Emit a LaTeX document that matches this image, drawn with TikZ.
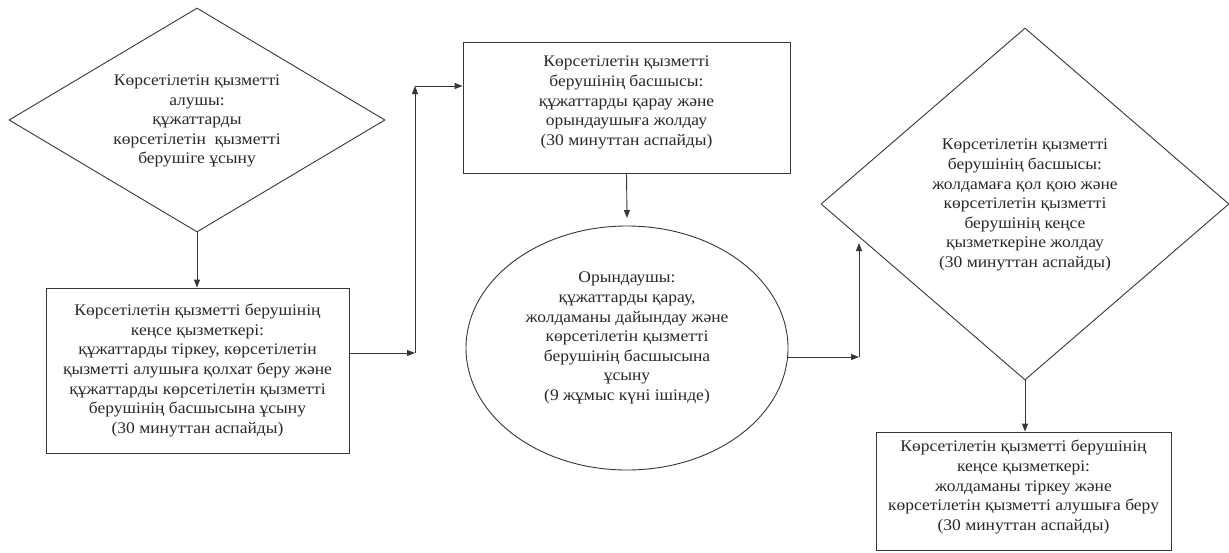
\documentclass[tikz,border=0pt]{standalone}
\usepackage{fontspec}
\setmainfont{Liberation Serif}[FakeStretch=1.08]
\usetikzlibrary{shapes.geometric,arrows.meta}
\definecolor{ln}{RGB}{55,55,55}
\definecolor{tx}{RGB}{40,40,40}
\tikzset{
  fnt/.style={font=\fontsize{16.2}{19.6}\selectfont, text=tx, align=center},
  txt/.style={fnt, inner sep=0pt, draw=ln, line width=0.9pt},
  lbl/.style={fnt, inner sep=0pt, draw=none},
  stepbox/.style={txt, rectangle},
  dia/.style={txt, diamond},
  ell/.style={txt, ellipse},
  arr/.style={draw=ln, line width=0.9pt, -{Triangle[length=8pt,width=6pt]}}
}
\begin{document}
\begin{tikzpicture}[x=1pt,y=-1pt]
\useasboundingbox (0,0) rectangle (1229,552);
\fill[white] (0,0) rectangle (1229,552);

\node[dia, minimum width=376pt, minimum height=224pt,
  label={[lbl, yshift=-1pt]center:{Көрсетілетін қызметті\\алушы:\\құжаттарды\\көрсетілетін\ \ қызметті\\берушіге ұсыну}}] (d1) at (197,120) {};

\node[stepbox, minimum width=303pt, minimum height=165pt] (b1) at (197.5,370.5)
  {Көрсетілетін қызметті берушінің\\кеңсе қызметкері:\\құжаттарды тіркеу, көрсетілетін\\қызметті алушыға қолхат беру және\\құжаттарды көрсетілетін қызметті\\берушінің басшысына ұсыну\\(30 минуттан аспайды)};

\node[stepbox, minimum width=327pt, minimum height=131pt,
  label={[lbl, yshift=5pt]center:{Көрсетілетін қызметті\\берушінің басшысы:\\құжаттарды қарау және\\орындаушыға жолдау\\(30 минуттан аспайды)}}] (b2) at (626.5,107.5) {};

\node[ell, minimum width=322pt, minimum height=244pt,
  label={[lbl, yshift=10pt]center:{Орындаушы:\\құжаттарды қарау,\\жолдаманы дайындау және\\көрсетілетін қызметті\\берушінің басшысына\\ұсыну\\(9 жұмыс күні ішінде)}}] (e) at (627,348) {};

\node[dia, minimum width=408pt, minimum height=352pt,
  label={[lbl, yshift=-1pt]center:{Көрсетілетін қызметті\\берушінің басшысы:\\жолдамаға қол қою және\\көрсетілетін қызметті\\берушінің кеңсе\\қызметкеріне жолдау\\(30 минуттан аспайды)}}] (d2) at (1025,204) {};

\node[stepbox, minimum width=295pt, minimum height=118pt,
  label={[lbl, yshift=4pt]center:{Көрсетілетін қызметті берушінің\\кеңсе қызметкері:\\жолдаманы тіркеу және\\көрсетілетін қызметті алушыға беру\\(30 минуттан аспайды)}}] (b3) at (1023.5,491) {};

\coordinate (c1) at (415,353);
\coordinate (c2) at (415,86);
\coordinate (c3) at (859,357);
\coordinate (c4) at (859,243);
\coordinate (c5) at (627,218);

\draw[arr] (d1.south) -- (d1.south |- b1.north);
\draw[arr] (c1 -| b1.east) -- (c1);
\draw[arr] (c1) -- (c2);
\draw[arr] (c2) -- (c2 -| b2.west);
\draw[arr] (b2.south) -- (c5);
\draw[arr] (c3 -| e.east) -- (c3);
\draw[arr] (c3) -- (c4);
\draw[arr] (d2.south) -- (d2.south |- b3.north);
\end{tikzpicture}
\end{document}
